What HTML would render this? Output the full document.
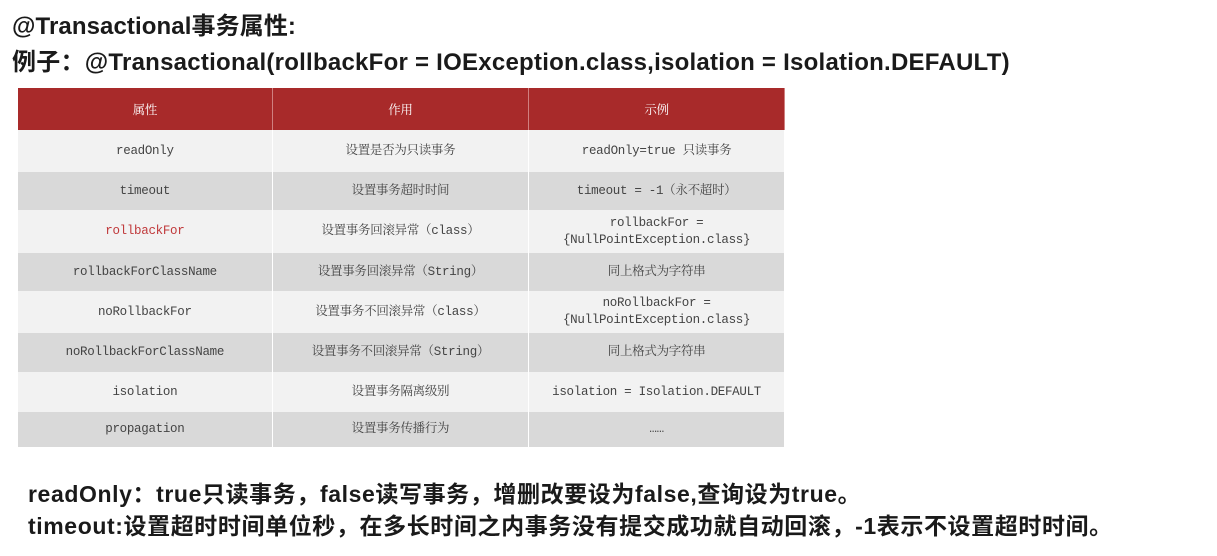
<!DOCTYPE html>
<html><head><meta charset="utf-8"><style>
body{margin:0;width:1217px;height:556px;background:#fff;position:relative;overflow:hidden;font-family:"Liberation Sans","Noto Sans CJK SC",sans-serif;}
.t{position:absolute;font-weight:bold;color:#1a1a1a;white-space:nowrap;}
table{position:absolute;left:17px;top:88px;width:768px;border-collapse:collapse;font-family:"Liberation Mono","Noto Serif CJK SC",monospace;font-size:12.5px;color:#444;letter-spacing:-0.3px;}
td,th{text-align:center;border-left:1px solid #fff;border-right:1px solid #fff;padding:0;line-height:17px;}
th{background:#a82a2a;color:#fff;font-weight:normal;height:42px;border-right:1px solid #d08080;font-family:"Noto Serif CJK SC",serif;}
tr.l td{background:#f2f2f2;}
tr.g td{background:#d9d9d9;}
</style></head><body>
<div class="t" style="left:12px;top:6px;font-size:24px;letter-spacing:0.1px;">@Transactional事务属性:</div>
<div class="t" style="left:12px;top:42px;font-size:24px;letter-spacing:0.25px;">例子：@Transactional(rollbackFor = IOException.class,isolation = Isolation.DEFAULT)</div>
<table>
<colgroup><col style="width:255px"><col style="width:257px"><col style="width:256px"></colgroup>
<tr><th>属性</th><th>作用</th><th>示例</th></tr>
<tr class="l" style="height:42px"><td>readOnly</td><td>设置是否为只读事务</td><td>readOnly=true 只读事务</td></tr>
<tr class="g" style="height:38px"><td>timeout</td><td>设置事务超时时间</td><td>timeout = -1（永不超时）</td></tr>
<tr class="l" style="height:43px"><td style="color:#c0393b">rollbackFor</td><td>设置事务回滚异常（class）</td><td>rollbackFor =<br>{NullPointException.class}</td></tr>
<tr class="g" style="height:38px"><td>rollbackForClassName</td><td>设置事务回滚异常（String）</td><td>同上格式为字符串</td></tr>
<tr class="l" style="height:42px"><td>noRollbackFor</td><td>设置事务不回滚异常（class）</td><td>noRollbackFor =<br>{NullPointException.class}</td></tr>
<tr class="g" style="height:39px"><td>noRollbackForClassName</td><td>设置事务不回滚异常（String）</td><td>同上格式为字符串</td></tr>
<tr class="l" style="height:40px"><td>isolation</td><td>设置事务隔离级别</td><td>isolation = Isolation.DEFAULT</td></tr>
<tr class="g" style="height:35px"><td>propagation</td><td>设置事务传播行为</td><td>……</td></tr>
</table>
<div class="t" style="left:28px;top:475px;font-size:23px;letter-spacing:0.6px;">readOnly：true只读事务，false读写事务，增删改要设为false,查询设为true。</div>
<div class="t" style="left:28px;top:507px;font-size:23px;letter-spacing:0.6px;">timeout:设置超时时间单位秒，在多长时间之内事务没有提交成功就自动回滚，-1表示不设置超时时间。</div>
</body></html>
